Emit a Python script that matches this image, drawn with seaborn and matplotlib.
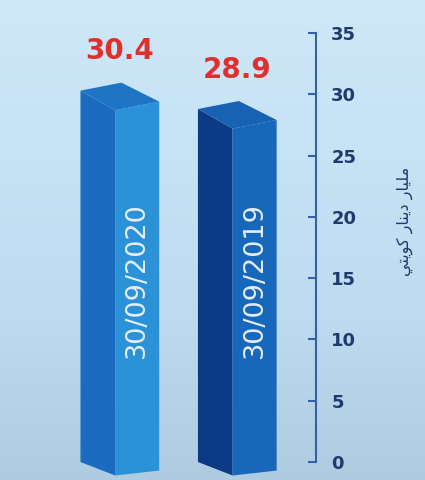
import numpy as np
import matplotlib
matplotlib.use("Agg")
import matplotlib.pyplot as plt
import seaborn as sns
from matplotlib.patches import Polygon
from matplotlib.colors import LinearSegmentedColormap

# data
dates = ['30/09/2020', '30/09/2019']
values = [30.4, 28.9]
value_labels = ['30.4', '28.9']
yticks = [0, 5, 10, 15, 20, 25, 30, 35]
ylabel_ar = 'مليار دينار كويتي'

# colours per bar: left face, right face, top
left_cols = ['#1b6cc0', '#0d3a84']
right_cols = ['#2b92d8', '#1767ba']
top_cols = ['#1f74c6', '#1762b2']
navy = '#1f3a6e'
axis_blue = '#2f62a6'


# matplotlib has no arabic shaping, so pick presentation forms by hand
FORMS = {
    'م': (0xFEE1, 0xFEE2, 0xFEE3, 0xFEE4),
    'ل': (0xFEDD, 0xFEDE, 0xFEDF, 0xFEE0),
    'ي': (0xFEF1, 0xFEF2, 0xFEF3, 0xFEF4),
    'ن': (0xFEE5, 0xFEE6, 0xFEE7, 0xFEE8),
    'ك': (0xFED9, 0xFEDA, 0xFEDB, 0xFEDC),
    'ت': (0xFE95, 0xFE96, 0xFE97, 0xFE98),
    'ا': (0xFE8D, 0xFE8E, None, None),
    'ر': (0xFEAD, 0xFEAE, None, None),
    'د': (0xFEA9, 0xFEAA, None, None),
    'و': (0xFEED, 0xFEEE, None, None),
}


def shape_arabic(text):
    words = []
    for word in text.split(' '):
        out = []
        for i, ch in enumerate(word):
            iso, fin, ini, med = FORMS[ch]
            prev_joins = i > 0 and FORMS[word[i - 1]][2] is not None
            next_joins = i < len(word) - 1 and ini is not None
            if prev_joins and next_joins:
                cp = med
            elif prev_joins:
                cp = fin
            elif next_joins:
                cp = ini
            else:
                cp = iso
            out.append(chr(cp))
        words.append(''.join(reversed(out)))
    return ' '.join(reversed(words))


fig = plt.figure(figsize=(4.25, 4.8), dpi=100)
fig.patch.set_facecolor('#c8e3f5')

# background gradient
bg = fig.add_axes([0, 0, 1, 1], zorder=-10)
grad = np.linspace(0, 1, 256).reshape(-1, 1)
cmap = LinearSegmentedColormap.from_list('bg', ['#cfe8f8', '#c6e2f5', '#bedaef', '#afcbe0'])
bg.imshow(grad, aspect='auto', cmap=cmap, extent=[0, 1, 0, 1])
bg.axis('off')

ax = fig.add_axes([0.0, 18 / 480, 316 / 425, 429 / 480])
ax.patch.set_alpha(0)

sns.barplot(x=dates, y=values, hue=dates, palette=right_cols, width=0.67,
            legend=False, ax=ax)

split = 0.44
for i, patch in enumerate(ax.patches):
    x0, w, h = patch.get_x(), patch.get_width(), patch.get_height()
    patch.set_visible(False)
    xm, x1 = x0 + split * w, x0 + w
    # top vertices / bottom vertices (slight perspective)
    tl, tf, tr, tb = h - 0.1, h - 1.7, h - 1.0, h + 0.55
    bl, bf, br = 0.0, -1.1, -0.7
    ax.add_patch(Polygon([(x0, bl), (x0, tl), (xm, tf), (xm, bf)],
                         closed=True, color=left_cols[i], lw=0, clip_on=False))
    ax.add_patch(Polygon([(xm, bf), (xm, tf), (x1, tr), (x1, br)],
                         closed=True, color=right_cols[i], lw=0, clip_on=False))
    ax.add_patch(Polygon([(x0, tl), (x0 + 0.52 * w, tb), (x1, tr), (xm, tf)],
                         closed=True, color=top_cols[i], lw=0, clip_on=False))
    ax.text((xm + x1) / 2, 14.85, dates[i], rotation=90, ha='center', va='center',
            fontsize=19.5, color='#e4eef8')
    ax.text(x0 + w / 2, h + 3.1, value_labels[i], ha='center', va='center',
            fontsize=20, fontweight='bold', color='#e0302e')

ax.set_xlim(-1.02, 1.67)
ax.set_ylim(0, 35)
ax.set_yticks(yticks)
ax.yaxis.tick_right()
ax.tick_params(axis='y', direction='in', length=6, width=1.5, color=axis_blue,
               labelcolor=navy, labelsize=13, pad=11)
for lab in ax.get_yticklabels():
    lab.set_fontweight('bold')
ax.tick_params(axis='x', bottom=False, labelbottom=False)
ax.set_xlabel('')
for side in ['left', 'top', 'bottom']:
    ax.spines[side].set_visible(False)
ax.spines['right'].set_color(axis_blue)
ax.spines['right'].set_linewidth(1.5)

ax.yaxis.set_label_position('right')
ax.set_ylabel(shape_arabic(ylabel_ar), rotation=90, fontsize=11.5, color=navy)
ax.yaxis.set_label_coords(397 / 316, 0.56)

fig.savefig('out.png', dpi=100, facecolor=fig.get_facecolor())
